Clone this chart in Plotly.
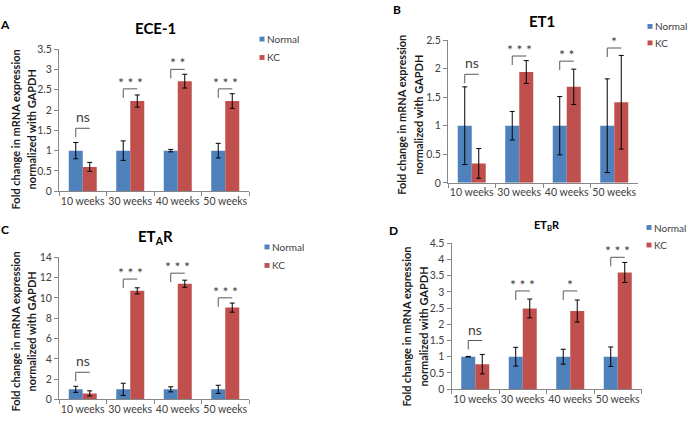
import plotly.graph_objects as go

categories = ["10 weeks", "30 weeks", "40 weeks", "50 weeks"]
series_names = ["Normal", "KC"]

# Panel A: ECE-1
ece1_normal = [1.0, 1.0, 1.0, 1.0]
ece1_normal_err = [0.20, 0.24, 0.03, 0.18]
ece1_kc = [0.60, 2.22, 2.71, 2.22]
ece1_kc_err = [0.11, 0.15, 0.17, 0.18]
ece1_sig = ["ns", "***", "**", "***"]
ece1_bracket = [1.55, 2.52, 3.00, 2.52]

# Panel B: ET1
et1_normal = [1.0, 1.0, 1.0, 1.0]
et1_normal_err = [0.68, 0.25, 0.51, 0.82]
et1_kc = [0.34, 1.94, 1.68, 1.41]
et1_kc_err = [0.26, 0.20, 0.31, 0.82]
et1_sig = ["ns", "***", "**", "*"]
et1_bracket = [1.90, 2.22, 2.13, 2.36]

# Panel C: ETAR
etar_normal = [1.0, 1.0, 1.0, 1.0]
etar_normal_err = [0.30, 0.60, 0.25, 0.40]
etar_kc = [0.60, 10.70, 11.40, 9.05]
etar_kc_err = [0.25, 0.30, 0.35, 0.45]
etar_sig = ["ns", "***", "***", "***"]
etar_bracket = [2.68, 11.86, 12.44, 10.01]

# Panel D: ETBR
etbr_normal = [1.0, 1.0, 1.0, 1.0]
etbr_normal_err = [0.01, 0.29, 0.23, 0.30]
etbr_kc = [0.77, 2.49, 2.41, 3.60]
etbr_kc_err = [0.30, 0.29, 0.34, 0.31]
etbr_sig = ["ns", "***", "*", "***"]
etbr_bracket = [1.50, 3.03, 3.03, 4.07]

titles = ["ECE-1", "ET1", "ET<sub>A</sub>R", "ET<sub>B</sub>R"]
letters = ["A", "B", "C", "D"]
y_max = [3.5, 2.5, 14, 4.5]
y_step = [0.5, 0.5, 2, 0.5]
ytitle_lines = ["Fold change in mRNA expression", "normalized with GAPDH"]

W, H = 688, 422
FONT = "Lato, 'Liberation Sans', Arial, sans-serif"
BLUE = "#4F81BD"
RED = "#C0504D"
AXIS = "#868686"
TXT = "#404040"
BARGAP = 0.41

# layout geometry (pixels)
geo = [
    dict(x0=59, x1=249, yb=190.7, yt=44.3, title=(155, 23, 15), letter=(5, 19),
         ytitle=(15, 31, 127), leg=(262, 34, 53)),
    dict(x0=448, x1=638, yb=182, yt=35, title=(542, 15, 15), letter=(397, 4),
         ytitle=(402, 419, 112), leg=(650, 21, 38)),
    dict(x0=59, x1=249, yb=405, yt=258.7, title=(155, 238, 15), letter=(5, 230),
         ytitle=(15, 31, 335), leg=(267, 248, 267)),
    dict(x0=451.5, x1=641.5, yb=394.3, yt=244.3, title=(547, 226, 11), letter=(393, 231),
         ytitle=(407, 424, 330), leg=(649, 228, 246)),
]

panels = [
    (ece1_normal, ece1_normal_err, ece1_kc, ece1_kc_err, ece1_sig, ece1_bracket),
    (et1_normal, et1_normal_err, et1_kc, et1_kc_err, et1_sig, et1_bracket),
    (etar_normal, etar_normal_err, etar_kc, etar_kc_err, etar_sig, etar_bracket),
    (etbr_normal, etbr_normal_err, etbr_kc, etbr_kc_err, etbr_sig, etbr_bracket),
]

fig = go.Figure()
layout = dict(
    width=W, height=H, margin=dict(l=0, r=0, t=0, b=0),
    paper_bgcolor="white", plot_bgcolor="white",
    barmode="group", bargap=BARGAP, bargroupgap=0,
    font=dict(family=FONT, size=11, color=TXT),
    showlegend=False,
)
annotations = []
shapes = []
off = (1 - BARGAP) / 4


def paper_text(text, x, y, size, color, weight="normal", xanchor="center", angle=0):
    return dict(text=text, x=x / W, y=1 - y / H, xref="paper", yref="paper",
                xanchor=xanchor, yanchor="middle", showarrow=False, textangle=angle,
                font=dict(size=size, color=color, weight=weight))


for k, (g, (nv, ne, kv, ke, sig, br)) in enumerate(zip(geo, panels)):
    sfx = "" if k == 0 else str(k + 1)
    xa, ya = "x" + sfx, "y" + sfx
    colors = [BLUE, RED]
    for name, vals, errs, col in [(series_names[0], nv, ne, BLUE), (series_names[1], kv, ke, RED)]:
        fig.add_trace(go.Bar(
            x=categories, y=vals, name=name, marker=dict(color=col, line=dict(width=0)),
            error_y=dict(type="data", array=errs, visible=True, color="black", thickness=1, width=2.5),
            xaxis=xa, yaxis=ya, showlegend=False,
        ))
    layout["xaxis" + sfx] = dict(
        domain=[g["x0"] / W, g["x1"] / W], anchor=ya, type="category",
        showline=True, linecolor=AXIS, linewidth=1, ticks="outside", ticklen=4,
        tickcolor=AXIS, tickson="boundaries", showgrid=False, zeroline=False,
        tickangle=0, tickfont=dict(size=10.5, color=TXT, family=FONT), fixedrange=True,
    )
    layout["yaxis" + sfx] = dict(
        domain=[1 - g["yb"] / H, 1 - g["yt"] / H], anchor=xa,
        range=[0, y_max[k]], dtick=y_step[k], tick0=0,
        showline=True, linecolor=AXIS, linewidth=1, ticks="outside", ticklen=4,
        tickcolor=AXIS, showgrid=False, zeroline=False,
        tickfont=dict(size=10.5, color=TXT, family=FONT), fixedrange=True,
    )
    # legend (per panel)
    lx, ly1, ly2 = g["leg"]
    for name, col, ly in zip(series_names, colors, [ly1, ly2]):
        shapes.append(dict(type="rect", xref="paper", yref="paper",
                           x0=(lx - 2.5) / W, x1=(lx + 2.5) / W,
                           y0=1 - (ly + 2.5) / H, y1=1 - (ly - 2.5) / H,
                           fillcolor=col, line=dict(width=0)))
        annotations.append(paper_text(name, lx + 3, ly, 10, TXT, xanchor="left"))
    # titles, letters, y-axis titles
    tx, ty, ts = g["title"]
    annotations.append(paper_text(titles[k], tx, ty, ts, "#000000", weight="bold"))
    px_, py_ = g["letter"]
    annotations.append(paper_text(letters[k], px_, py_, 12, "#000000", weight="bold"))
    t1x, t2x, tyc = g["ytitle"]
    for line, lxx in zip(ytitle_lines, [t1x, t2x]):
        annotations.append(paper_text(line, lxx, tyc, 11, "#1a1a1a", weight="bold", angle=-90))
    # significance brackets
    for i, (s, b) in enumerate(zip(sig, br)):
        shapes.append(dict(type="line", xref=xa, yref=ya, x0=i - off, x1=i + off, y0=b, y1=b,
                           line=dict(color="#595959", width=1)))
        shapes.append(dict(type="line", xref=xa, yref=ya, x0=i - off, x1=i - off,
                           ysizemode="pixel", yanchor=b, y0=0, y1=-9,
                           line=dict(color="#595959", width=1)))
        if s == "ns":
            annotations.append(dict(text=s, x=i, y=b, xref=xa, yref=ya, showarrow=False,
                                    xanchor="center", yanchor="bottom", yshift=1,
                                    font=dict(size=14, color=TXT)))
        else:
            annotations.append(dict(text=" ".join(s), x=i, y=b, xref=xa, yref=ya, showarrow=False,
                                    xanchor="center", yanchor="bottom", yshift=-4,
                                    font=dict(size=14, color=TXT)))

layout["annotations"] = annotations
layout["shapes"] = shapes
fig.update_layout(**layout)
fig.write_html("out.html", config={"displayModeBar": False},
               post_script="document.body.style.margin='0';document.body.style.overflow='hidden';")
